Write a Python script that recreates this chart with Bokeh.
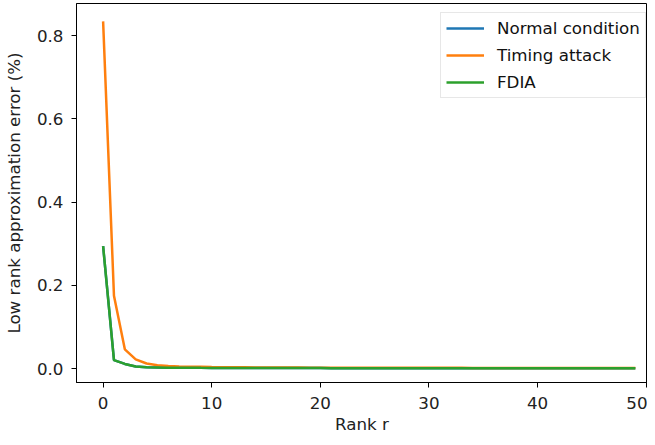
from bokeh.plotting import figure
from bokeh.models import Range1d, FixedTicker, NumeralTickFormatter, Legend, LegendItem
from bokeh.embed import file_html
from bokeh.resources import INLINE

rank = list(range(50))
normal = [0.294, 0.020, 0.011, 0.005, 0.003, 0.0025, 0.002, 0.002, 0.0018, 0.0016,
          0.0015, 0.0014, 0.0013, 0.0012, 0.0012, 0.0011, 0.0011, 0.0010, 0.0010, 0.0010,
          0.0010, 0.0009, 0.0009, 0.0009, 0.0009, 0.0009, 0.0009, 0.0008, 0.0008, 0.0008,
          0.0008, 0.0008, 0.0008, 0.0008, 0.0008, 0.0008, 0.0008, 0.0008, 0.0008, 0.0008,
          0.0008, 0.0008, 0.0008, 0.0008, 0.0008, 0.0008, 0.0008, 0.0008, 0.0008, 0.0008]
timing = [0.834, 0.175, 0.046, 0.022, 0.012, 0.008, 0.006, 0.005, 0.0045, 0.004,
          0.0035, 0.0032, 0.003, 0.0028, 0.0026, 0.0025, 0.0024, 0.0023, 0.0022, 0.0021,
          0.0020, 0.0020, 0.0019, 0.0019, 0.0018, 0.0018, 0.0018, 0.0017, 0.0017, 0.0017,
          0.0016, 0.0016, 0.0016, 0.0016, 0.0015, 0.0015, 0.0015, 0.0015, 0.0015, 0.0015,
          0.0014, 0.0014, 0.0014, 0.0014, 0.0014, 0.0014, 0.0014, 0.0014, 0.0014, 0.0014]
fdia = [0.294, 0.020, 0.011, 0.005, 0.003, 0.0025, 0.002, 0.002, 0.0018, 0.0016,
        0.0015, 0.0014, 0.0013, 0.0012, 0.0012, 0.0011, 0.0011, 0.0010, 0.0010, 0.0010,
        0.0010, 0.0009, 0.0009, 0.0009, 0.0009, 0.0009, 0.0009, 0.0008, 0.0008, 0.0008,
        0.0008, 0.0008, 0.0008, 0.0008, 0.0008, 0.0008, 0.0008, 0.0008, 0.0008, 0.0008,
        0.0008, 0.0008, 0.0008, 0.0008, 0.0008, 0.0008, 0.0008, 0.0008, 0.0008, 0.0008]
series_names = ["Normal condition", "Timing attack", "FDIA"]
colors = ["#1f77b4", "#ff7f0e", "#2ca02c"]
x_ticks = [0, 10, 20, 30, 40, 50]
y_ticks = [0.0, 0.2, 0.4, 0.6, 0.8]

FONT = "DejaVu Sans"
FS = "16.7px"

p = figure(width=647, height=437, output_backend="svg", toolbar_location=None,
           x_range=Range1d(-2.45, 50.12), y_range=Range1d(-0.0336, 0.877),
           min_border_left=76, min_border_right=0, min_border_top=3, min_border_bottom=55)

p.xgrid.visible = False
p.ygrid.visible = False
p.outline_line_color = "black"
p.outline_line_width = 1
p.background_fill_color = "white"
p.border_fill_color = "white"

items = []
for ys, name, c in zip([normal, timing, fdia], series_names, colors):
    r = p.line(rank, ys, line_color=c, line_width=2.5)
    items.append(LegendItem(label=name, renderers=[r]))

legend = Legend(items=items, location=(364, 284), margin=0,
                label_text_font=FONT, label_text_font_size=FS,
                label_text_color="#111111", glyph_width=38, glyph_height=18,
                label_height=18, spacing=7, padding=5, label_standoff=13,
                border_line_color="#d0d0d0", border_line_width=1,
                background_fill_alpha=0.8)
p.add_layout(legend)

p.xaxis.ticker = FixedTicker(ticks=x_ticks)
p.yaxis.ticker = FixedTicker(ticks=y_ticks)
p.yaxis.formatter = NumeralTickFormatter(format="0.0")

for ax in (p.xaxis[0], p.yaxis[0]):
    ax.major_label_text_font = FONT
    ax.major_label_text_font_size = FS
    ax.major_label_text_color = "#222222"
    ax.axis_label_text_font = FONT
    ax.axis_label_text_font_size = FS
    ax.axis_label_text_font_style = "normal"
    ax.axis_label_text_color = "#222222"
    ax.minor_tick_line_color = None
    ax.major_tick_out = 5
    ax.major_tick_in = 0
    ax.major_tick_line_color = "black"
    ax.axis_line_color = "black"

p.xaxis.major_label_standoff = 9
p.yaxis.major_label_standoff = 8
p.xaxis.axis_label = "Rank r"
p.yaxis.axis_label = "Low rank approximation error (%)"
p.xaxis.axis_label_standoff = 2
p.yaxis.axis_label_standoff = 10

open("out.html", "w").write(file_html(p, INLINE))
